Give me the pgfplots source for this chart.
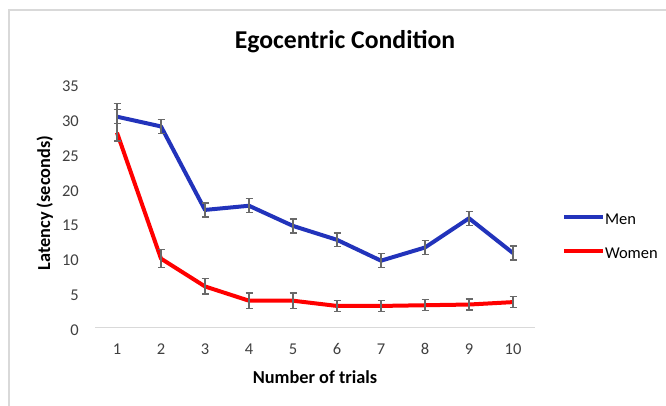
\documentclass[border=0pt]{standalone}
\usepackage{fontspec}
\setmainfont{Carlito}
\usepackage{pgfplots}
\usepackage{pgfplotstable}
\pgfplotsset{compat=1.18}

\definecolor{menblue}{RGB}{34,51,187}
\definecolor{womenred}{RGB}{255,0,0}
\definecolor{errgray}{RGB}{105,105,105}
\definecolor{framegray}{RGB}{217,217,217}
\definecolor{ticktext}{RGB}{64,64,64}

% mean latency per trial, with upper / lower error
\pgfplotstableread{
trial lat  ep   em
1     30.3 1.9  1.0
2     28.9 1.0  1.0
3     16.9 1.0  1.0
4     17.5 1.0  1.0
5     14.6 1.0  1.0
6     12.6 1.0  1.0
7      9.6 1.0  1.0
8     11.5 1.0  1.0
9     15.7 1.0  1.0
10    10.7 1.0  1.0
}\mendata

\pgfplotstableread{
trial lat  ep   em
1     28.0 3.3  1.2
2      9.9 1.3  1.3
3      5.9 1.1  1.1
4      3.85 1.1 1.1
5      3.85 1.1 1.1
6      3.1 0.8  0.8
7      3.1 0.8  0.8
8      3.2 0.8  0.8
9      3.3 0.8  0.8
10     3.65 0.8 0.8
}\womendata

\begin{document}
\begin{tikzpicture}
\useasboundingbox (0,0) rectangle (666bp,406bp);
\fill[white] (0,0) rectangle (666bp,406bp);
\draw[framegray, line width=1.5bp] (9bp,-5bp) -- (9bp,396bp) -- (680bp,396bp);
\node[anchor=base, font=\fontsize{25.7bp}{30bp}\selectfont\bfseries] at (345bp,357bp) {Egocentric Condition};
\node[rotate=90, anchor=base, inner sep=0pt, font=\fontsize{18.3bp}{22bp}\selectfont\bfseries]
  at (50bp,203bp) {Latency (seconds)};
\begin{axis}[
  at={(95bp,78.5bp)}, anchor=south west,
  scale only axis, width=440bp, height=243.5bp,
  xmin=0.5, xmax=10.5, ymin=0, ymax=35,
  xtick={1,...,10}, ytick={0,5,...,35},
  axis x line*=bottom, axis y line*=left,
  x axis line style={framegray, line width=1.5bp, -},
  y axis line style={draw=none},
  major tick length=0pt,
  tick label style={font=\fontsize{16.5bp}{19bp}\selectfont, text=ticktext},
  /pgf/number format/assume math mode=true,
  xticklabel style={anchor=base, inner sep=0pt, yshift=-26.8bp},
  yticklabel style={anchor=east, inner sep=0pt, xshift=-16bp, yshift=-2.5bp},
  xlabel={Number of trials},
  xlabel style={at={(axis description cs:0.5,0)}, anchor=base, inner sep=0pt, yshift=-55.5bp,
    font=\fontsize{18.3bp}{22bp}\selectfont\bfseries},
  legend style={draw=none, fill=none, at={(axis description cs:1.061,0.381)}, anchor=west,
    inner sep=0pt, row sep=20.4bp, column sep=0bp,
    font=\fontsize{16.5bp}{19bp}\selectfont,
    nodes={inner sep=0pt, text height=10.6bp, text depth=0pt}},
  legend cell align=left,
  legend image code/.code={\path[draw=none, fill=none] (0bp,8bp) -- (0bp,-2bp);
    \draw[#1, line width=4bp] (0bp,2bp) -- (39bp,2bp);},
  error bars/y dir=both, error bars/y explicit,
  error bars/error bar style={errgray, line width=1.3bp},
  error bars/error mark options={errgray, mark size=3.5bp, line width=1.3bp, rotate=90},
]
\addplot[menblue, line width=4bp, line join=round, mark=none]
  table[x=trial, y=lat, y error plus=ep, y error minus=em] {\mendata};
\addlegendentry{Men}
\addplot[womenred, line width=4bp, line join=round, mark=none]
  table[x=trial, y=lat, y error plus=ep, y error minus=em] {\womendata};
\addlegendentry{Women}
\end{axis}
\end{tikzpicture}
\end{document}
